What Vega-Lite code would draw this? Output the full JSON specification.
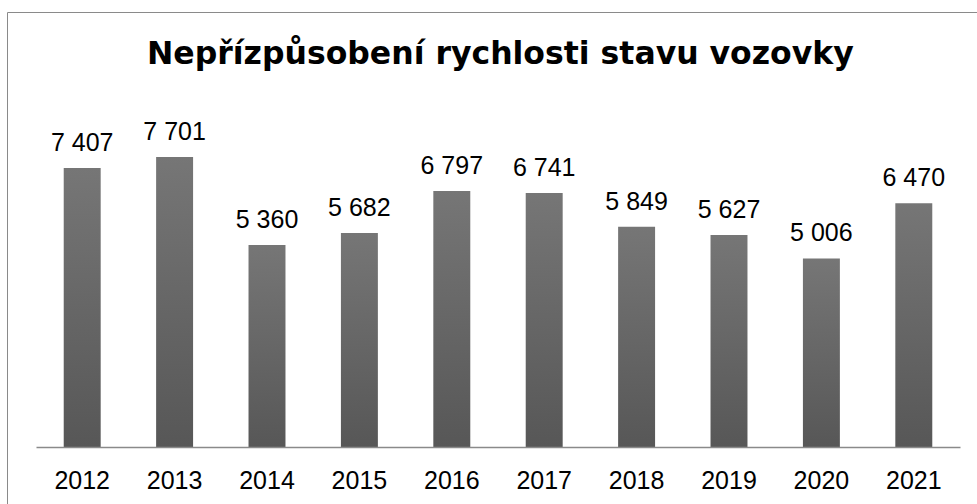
{
  "$schema": "https://vega.github.io/schema/vega-lite/v6.json",
  "width": 990,
  "height": 510,
  "autosize": {"type": "none"},
  "padding": {"left": 7, "top": 12, "right": -20, "bottom": -18},
  "background": "white",
  "config": {
    "locale": {"number": {"decimal": ",", "thousands": " ", "grouping": [3], "currency": ["", " Kč"]}},
    "view": {"stroke": "#8a8a8a", "strokeWidth": 1},
    "font": "Liberation Sans"
  },
  "title": {
    "text": "Nepřízpůsobení rychlosti stavu vozovky",
    "font": "DejaVu Sans",
    "fontSize": 31.5,
    "fontWeight": "bold",
    "color": "#000000",
    "anchor": "start",
    "baseline": "alphabetic",
    "offset": -83,
    "dx": 140
  },
  "data": {
    "values": [
      {"year": "2012", "value": 7407},
      {"year": "2013", "value": 7701},
      {"year": "2014", "value": 5360},
      {"year": "2015", "value": 5682},
      {"year": "2016", "value": 6797},
      {"year": "2017", "value": 6741},
      {"year": "2018", "value": 5849},
      {"year": "2019", "value": 5627},
      {"year": "2020", "value": 5006},
      {"year": "2021", "value": 6470}
    ]
  },
  "encoding": {
    "x": {
      "field": "year",
      "type": "nominal",
      "sort": null,
      "scale": {"range": [29, 953], "paddingInner": 0.6, "paddingOuter": 0.3},
      "axis": {
        "orient": "bottom",
        "offset": -75,
        "title": null,
        "labelAngle": 0,
        "ticks": false,
        "tickSize": 0,
        "labelPadding": 41,
        "labelBaseline": "alphabetic",
        "labelFont": "Liberation Sans",
        "labelFontSize": 25,
        "labelColor": "#000000",
        "domainColor": "#8a8a8a",
        "domainWidth": 1.5,
        "zindex": 1
      }
    },
    "y": {
      "field": "value",
      "type": "quantitative",
      "scale": {"domain": [0, 9000], "range": [435, 96], "nice": false},
      "axis": null
    }
  },
  "layer": [
    {
      "mark": {
        "type": "bar",
        "color": {
          "gradient": "linear",
          "x1": 0, "y1": 0, "x2": 0, "y2": 1,
          "stops": [
            {"offset": 0, "color": "#767676"},
            {"offset": 1, "color": "#575757"}
          ]
        }
      }
    },
    {
      "mark": {
        "type": "text",
        "baseline": "alphabetic",
        "dy": -17,
        "font": "Liberation Sans",
        "fontSize": 25,
        "color": "#000000"
      },
      "encoding": {
        "text": {"field": "value", "type": "quantitative", "format": ",d"}
      }
    }
  ]
}
